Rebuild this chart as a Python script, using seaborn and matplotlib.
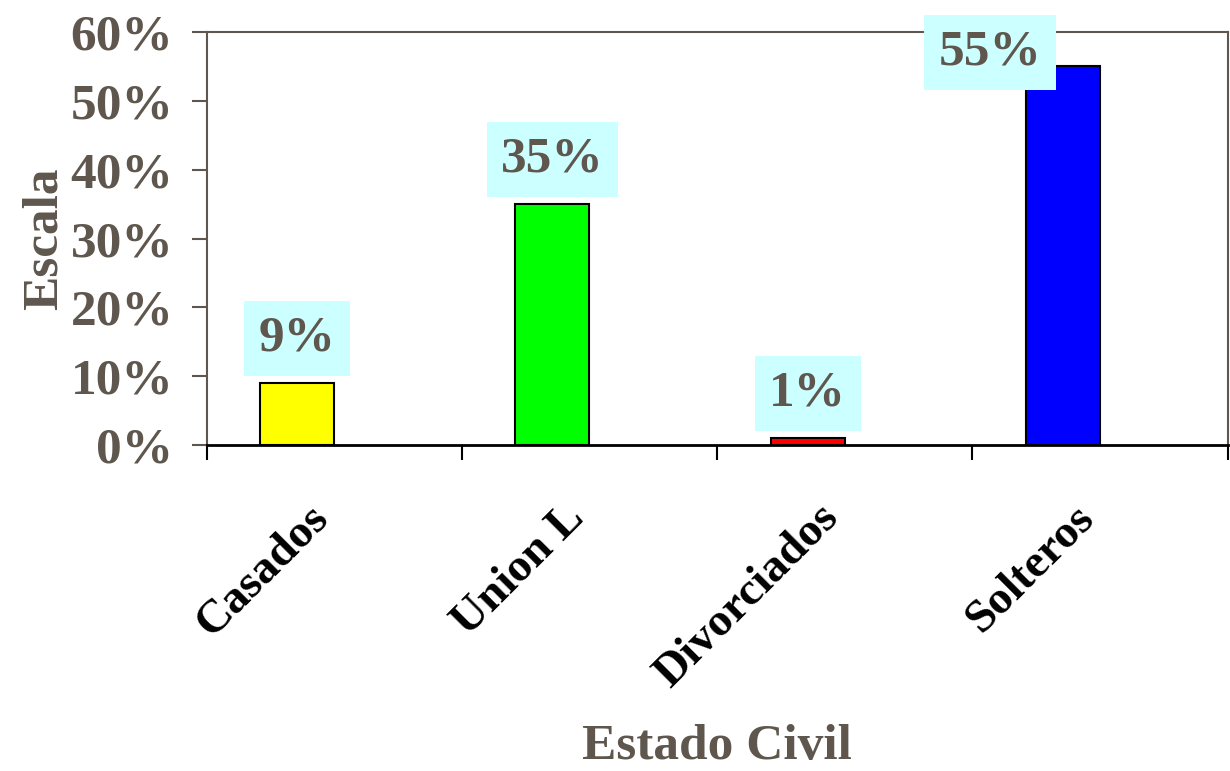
import pandas as pd
import seaborn as sns
import matplotlib.pyplot as plt
import matplotlib.transforms as mtransforms
from matplotlib.ticker import FixedLocator, PercentFormatter

sns.set_theme(style="white")
plt.rcParams["font.family"] = ["Liberation Serif", "DejaVu Serif"]
plt.rcParams["font.weight"] = "bold"

categorias = ["Casados", "Union L", "Divorciados", "Solteros"]
porcentajes = [9, 35, 1, 55]
colores = ["#ffff00", "#00ff00", "#ff0000", "#0000ff"]

gris = "#5f574e"

df = pd.DataFrame({"estado": categorias, "valor": porcentajes})

fig, ax = plt.subplots(figsize=(12.3, 7.71), dpi=100)
fig.subplots_adjust(left=0.168, right=0.998, top=0.9585, bottom=0.4228)

sns.barplot(
    data=df, x="estado", y="valor", hue="estado",
    palette=colores, saturation=1, width=0.29, edgecolor="black", linewidth=1.5,
    legend=False, ax=ax
)

# las barras quedan a la izquierda del centro de la categoria
for p in ax.patches:
    p.set_x(p.get_x() - p.get_width() / 2)

for i, v in enumerate(porcentajes):
    dx = -0.145 if v < 50 else -0.43
    ax.text(
        i + dx, min(v + 6.5, 57), f"{v}%",
        ha="center", va="center", fontsize=37, fontweight="bold", color=gris,
        bbox=dict(boxstyle="square,pad=0.28", facecolor="#ccffff", edgecolor="none")
    )

ax.set_xlim(-0.5, 3.5)
ax.set_ylim(0, 60)
ax.set_yticks(range(0, 61, 10))
ax.yaxis.set_major_formatter(PercentFormatter(decimals=0))

ax.xaxis.set_minor_locator(FixedLocator([-0.5, 0.5, 1.5, 2.5, 3.5]))
ax.tick_params(axis="x", which="major", bottom=True, length=0, pad=48)
ax.tick_params(axis="x", which="minor", bottom=True, length=11, width=1.5,
               color="black", direction="out")
ax.tick_params(axis="y", left=True, length=11, width=1.5, color=gris, direction="out",
               labelsize=37, labelcolor=gris, pad=13)

desplaza = mtransforms.ScaledTranslation(-0.12, 0, fig.dpi_scale_trans)
for lbl in ax.get_xticklabels():
    lbl.set_rotation(45)
    lbl.set_ha("right")
    lbl.set_va("center")
    lbl.set_rotation_mode("anchor")
    lbl.set_fontsize(34)
    lbl.set_fontweight("bold")
    lbl.set_color("black")
    lbl.set_transform(lbl.get_transform() + desplaza)

for side in ["top", "right", "left"]:
    ax.spines[side].set_visible(True)
    ax.spines[side].set_color(gris)
    ax.spines[side].set_linewidth(1.5)
ax.spines["bottom"].set_color("black")
ax.spines["bottom"].set_linewidth(2)

ax.set_xlabel("Estado Civil", fontsize=37, fontweight="bold", color=gris, labelpad=20)
ax.set_ylabel("Escala", fontsize=37, fontweight="bold", color=gris, labelpad=2)

fig.savefig("out.png", dpi=100)
plt.close()
